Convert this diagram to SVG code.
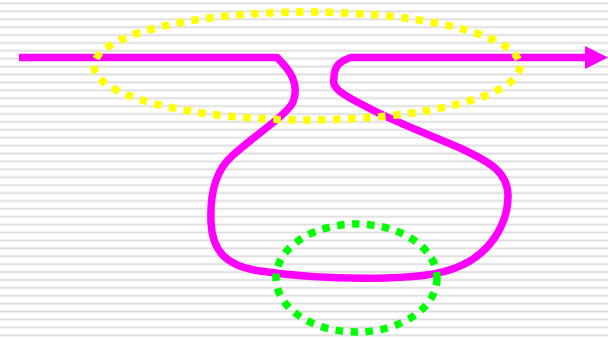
<svg xmlns="http://www.w3.org/2000/svg" width="608" height="339" viewBox="0 0 608 339">
<defs>
<pattern id="stripes" x="0" y="0" width="608" height="7.9" patternUnits="userSpaceOnUse">
<rect x="0" y="0" width="608" height="7.9" fill="#ffffff"/>
<rect x="0" y="2" width="608" height="0.8" fill="#efefef"/>
<rect x="0" y="2.8" width="608" height="1.2" fill="#dcdcdc"/>
<rect x="0" y="4" width="608" height="0.8" fill="#efefef"/>
</pattern>
</defs>
<style>
.dot{fill:none;stroke-width:7.5;stroke-dasharray:7.5 7.5}
.wire{fill:none;stroke:#ff00ff;stroke-width:7.5}
</style>
<rect x="0" y="0" width="608" height="339" fill="url(#stripes)"/>
<g id="connectors">
<path class="wire" d="M19,57.5 H277 C290,70 300,84 293,102 C287,115 255,135 232,156 C214,172 210,198 211,222 C212,250 225,266 260,271 C300,277 340,279 385,278 C425,277 450,273 470,261 C493,247 508,222 508,196 C508,172 490,162 460,148 C425,133 390,120 365,106 C343,95 331,88 334,78 C334,66 340,61 351,57.5 H586"/>
<polygon points="585,46 608,57.5 585,69" fill="#ff00ff"/>
</g>
<g id="yellow-ellipse">
<ellipse class="dot" cx="307" cy="66" rx="213" ry="54" stroke="#ffff00"/>
</g>
<g id="green-ellipse">
<ellipse class="dot" cx="356.5" cy="278" rx="80.5" ry="54" stroke="#00ff00"/>
</g>
</svg>
